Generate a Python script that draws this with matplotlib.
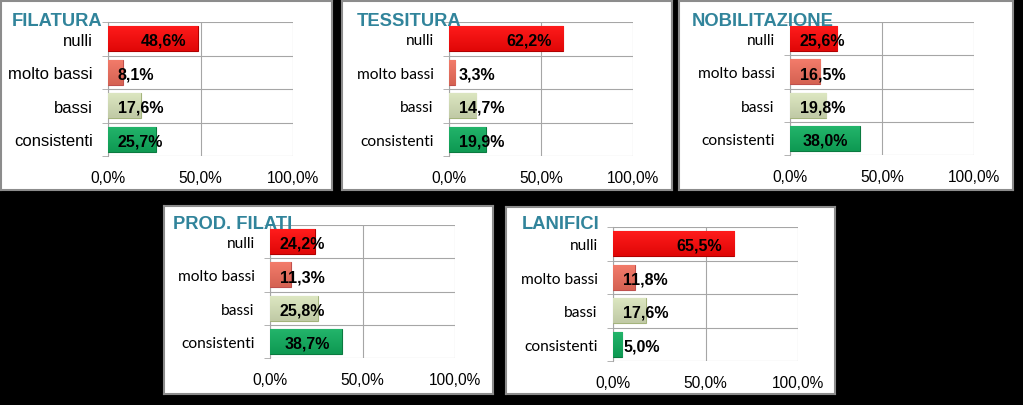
import matplotlib
matplotlib.use("Agg")
import numpy as np
import matplotlib.pyplot as plt
from matplotlib.colors import to_rgb

W, H = 1023, 406

categories = ["nulli", "molto bassi", "bassi", "consistenti"]
titles = ["FILATURA", "TESSITURA", "NOBILITAZIONE", "PROD. FILATI", "LANIFICI"]
filatura = [48.6, 8.1, 17.6, 25.7]
tessitura = [62.2, 3.3, 14.7, 19.9]
nobilitazione = [25.6, 16.5, 19.8, 38.0]
prod_filati = [24.2, 11.3, 25.8, 38.7]
lanifici = [65.5, 11.8, 17.6, 5.0]
series = [filatura, tessitura, nobilitazione, prod_filati, lanifici]
xticks = [0, 50, 100]
xticklabels = ["0,0%", "50,0%", "100,0%"]

face = ["#FF0808", "#F2705E", "#DAE5BC", "#10AE5E"]
edge = ["#B00000", "#C0504D", "#A4B47C", "#0B7A40"]

# pixel boxes: panel (x0, y0, x1, y1), plot area (x0, y0, x1, y1), title (x, baseline)
panels = [(1, 2, 332, 191), (342, 2, 672, 191), (679, 2, 1013, 191),
          (164, 207, 493, 395), (506, 208, 835, 395)]
plots = [(108, 23, 293, 157), (449, 23, 633, 157), (790, 23, 974, 156),
         (270, 226, 455, 359), (613, 228, 798, 362)]
title_pos = [(12, 26), (357, 26), (692, 26), (173, 229), (522, 229)]
cat_font = ["Liberation Sans", "Lato", "Lato", "Lato", "Lato"]
cat_size = [12, 11.2, 11.2, 11.2, 11.2]

fig = plt.figure(figsize=(W / 100, H / 100), dpi=100)
fig.patch.set_facecolor("black")


def frac(x0, y0, x1, y1):
    return [x0 / W, 1 - y1 / H, (x1 - x0) / W, (y1 - y0) / H]


def shade(c, k):
    c = np.array(to_rgb(c))
    if k > 0:
        return c + (1 - c) * k
    return c * (1 + k)


axes = []
for i in range(5):
    bg = fig.add_axes(frac(*panels[i]))
    bg.set_facecolor("white")
    bg.set_xticks([])
    bg.set_yticks([])
    for s in bg.spines.values():
        s.set_color("#8C8C8C")
        s.set_linewidth(1.5)

    ax = fig.add_axes(frac(*plots[i]))
    ax.set_facecolor("none")
    vals = series[i]
    ypos = list(range(len(categories)))
    bars = ax.barh(ypos, vals, height=0.75, color=face, edgecolor=edge, linewidth=0.8, zorder=3)
    # soft bevel: slightly lighter top, darker bottom
    for b, c in zip(bars, face):
        top, bot = shade(c, 0.08), shade(c, -0.12)
        t = np.linspace(0, 1, 32)[:, None]
        grad = (top[None, :] * (1 - t) + bot[None, :] * t)[:, None, :]
        x0, y0 = b.get_x(), b.get_y()
        im = ax.imshow(grad, extent=(x0, x0 + b.get_width(), y0 + b.get_height(), y0),
                       aspect="auto", zorder=3.5, interpolation="bilinear")
        im.set_clip_path(b)
    ax.set_xlim(0, 100)
    ax.set_ylim(len(categories) - 0.5, -0.5)
    ax.set_xticks(xticks)
    ax.set_xticklabels(xticklabels, fontsize=11.2, family="Liberation Sans")
    ax.set_yticks(ypos)
    ax.set_yticklabels(categories, fontsize=cat_size[i], family=cat_font[i])
    ax.set_yticks([b - 0.5 for b in range(len(categories) + 1)], minor=True)
    ax.tick_params(axis="y", which="major", length=0, pad=11)
    ax.tick_params(axis="y", which="minor", length=4, color="#A6A6A6", direction="out")
    ax.tick_params(axis="x", length=0, pad=10)
    ax.grid(True, axis="x", color="#A6A6A6", linewidth=0.8, zorder=0)
    ax.grid(True, axis="y", which="minor", color="#A6A6A6", linewidth=0.8, zorder=0)
    for s in ["top", "right", "bottom"]:
        ax.spines[s].set_visible(False)
    ax.spines["left"].set_color("#A6A6A6")
    ax.spines["left"].set_linewidth(0.8)

    tx, ty = title_pos[i]
    fig.text(tx / W, 1 - ty / H, titles[i], fontsize=13.2, fontweight="bold",
             color="#31849B", family="Liberation Sans", va="baseline", ha="left", zorder=10)
    axes.append(ax)

# value labels: inside end, but kept away from the axis start
fig.canvas.draw()
renderer = fig.canvas.get_renderer()
for i, ax in enumerate(axes):
    vals = series[i]
    ppx = (plots[i][2] - plots[i][0]) / 100.0
    for j, v in enumerate(vals):
        lab = f"{v:.1f}%".replace(".", ",")
        t = ax.text(0, j + 0.05, lab, fontsize=11.5, fontweight="bold",
                    family="Liberation Sans", va="center", ha="left", zorder=5)
        w = t.get_window_extent(renderer).width
        left = max(v * ppx - 12 - w, 10)
        t.set_x(left / ppx)

fig.savefig("out.png", dpi=100, facecolor="black")
